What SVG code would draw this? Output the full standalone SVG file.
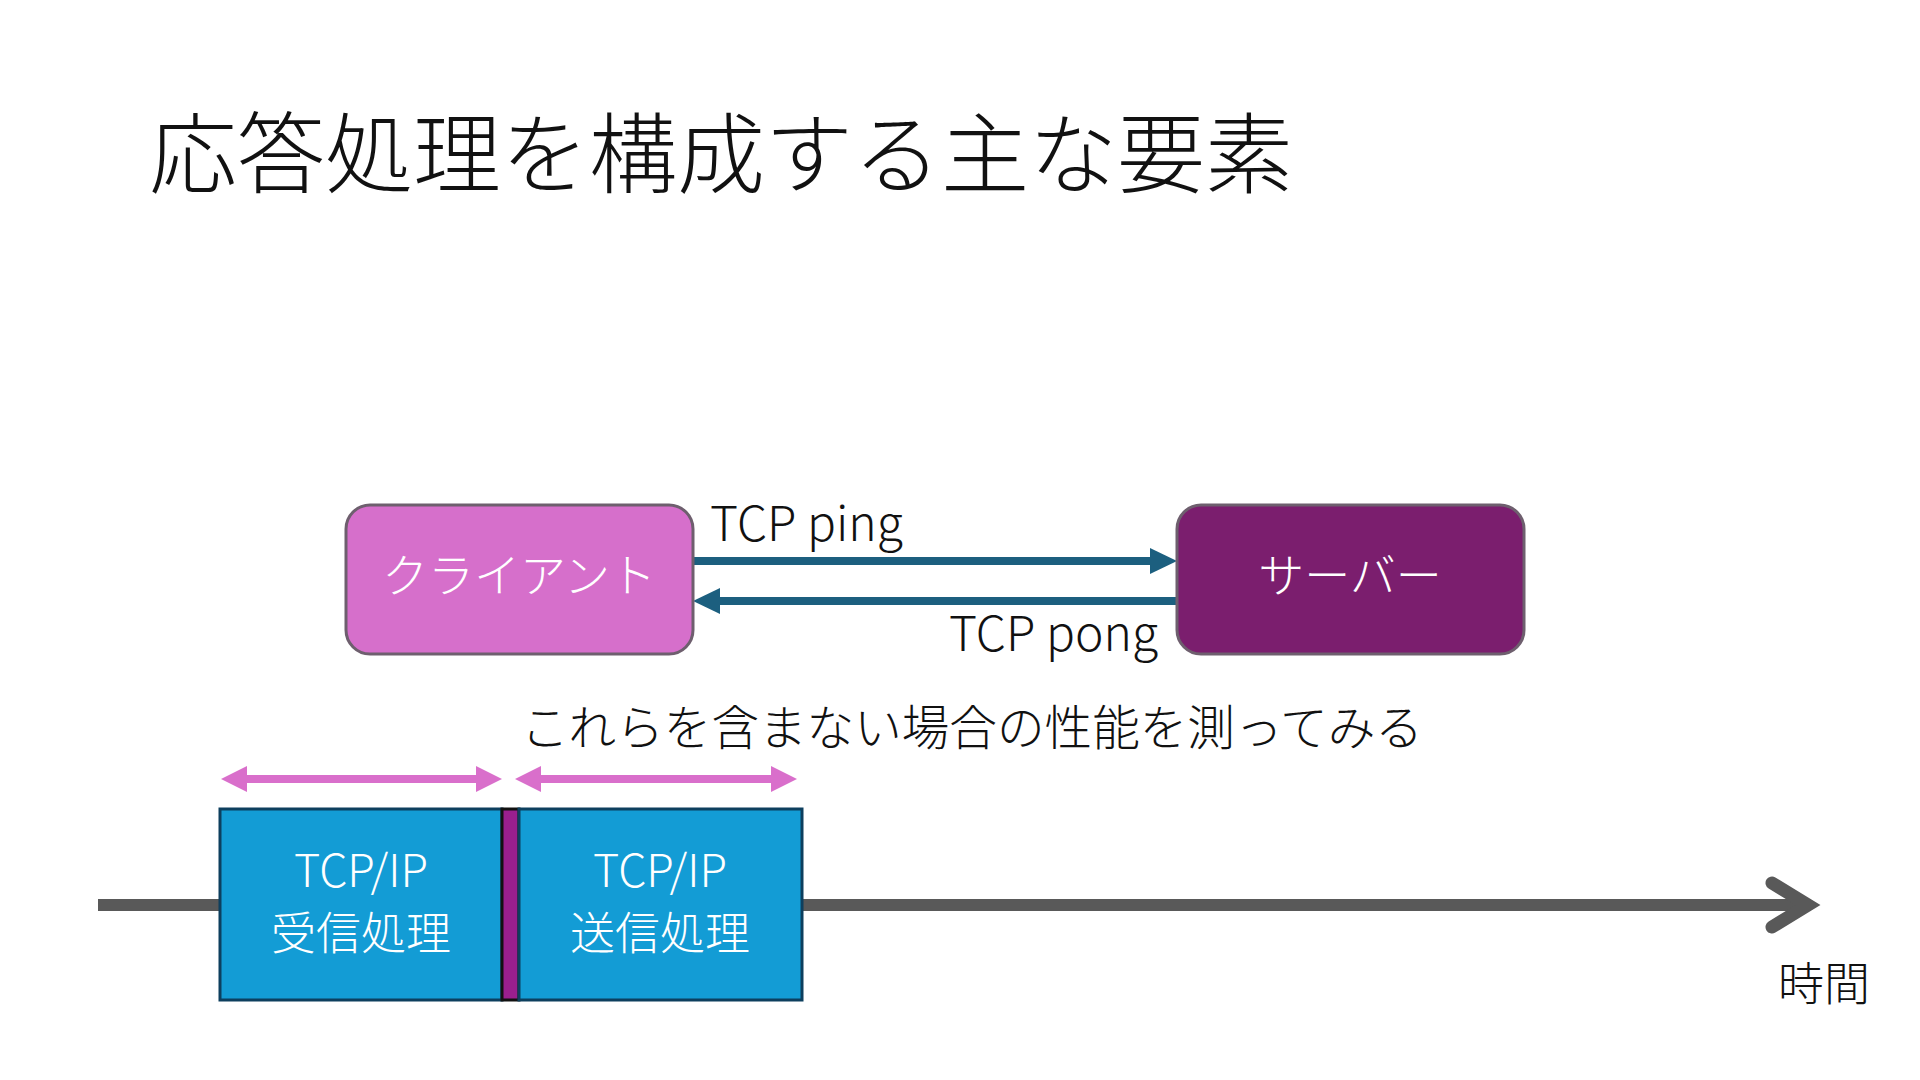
<svg xmlns="http://www.w3.org/2000/svg" width="1920" height="1080" viewBox="0 0 1920 1080">
<style>
text{font-family:"Noto Sans CJK JP","Noto Sans",sans-serif;font-weight:300}
.t{font-size:88px;fill:#111}
.lbl{font-size:48px;fill:#111}
.w{font-size:45px;fill:#ffffff;text-anchor:middle}
.node{stroke:#6E5F6E;stroke-width:3}
.blue{fill:#139CD5;stroke:#0D3F5E;stroke-width:3}
.teal{stroke:#1C5F7F;stroke-width:8;fill:none}
.pink{stroke:#D96FCB;stroke-width:8;fill:none}
</style>
<rect width="1920" height="1080" fill="#ffffff"/>
<text class="t" x="149" y="186">応答処理を構成する主な要素</text>

<g id="connectors">
<line class="teal" x1="693" y1="561" x2="1152" y2="561"/>
<polygon points="1150,548 1177,561 1150,574" fill="#1C5F7F"/>
<line class="teal" x1="1177" y1="601" x2="718" y2="601"/>
<polygon points="720,588 693,601 720,614" fill="#1C5F7F"/>
<line class="pink" x1="245" y1="779" x2="478" y2="779"/>
<polygon points="247,766 221,779 247,792" fill="#D96FCB"/>
<polygon points="476,766 502,779 476,792" fill="#D96FCB"/>
<line class="pink" x1="539" y1="779" x2="773" y2="779"/>
<polygon points="541,766 515,779 541,792" fill="#D96FCB"/>
<polygon points="771,766 797,779 771,792" fill="#D96FCB"/>
<line x1="98" y1="905" x2="1805" y2="905" stroke="#595959" stroke-width="12"/>
<polyline points="1772,883 1808,905 1772,927" fill="none" stroke="#595959" stroke-width="13" stroke-linecap="round" stroke-linejoin="miter"/>
</g>

<text class="lbl" x="710" y="541">TCP ping</text>
<text class="lbl" x="1158" y="651" text-anchor="end">TCP pong</text>

<g id="client">
<rect class="node" x="346" y="505" width="347" height="149" rx="24" fill="#D66FCB"/>
<text class="w" x="519" y="592" style="font-size:46px">クライアント</text>
</g>
<g id="server">
<rect class="node" x="1177" y="505" width="347" height="149" rx="24" fill="#7B1E6E"/>
<text class="w" x="1350" y="592" style="font-size:46px">サーバー</text>
</g>

<text class="lbl" x="521" y="745" style="font-size:47.6px">これらを含まない場合の性能を測ってみる</text>

<g id="recv">
<rect class="blue" x="220" y="809" width="282" height="191"/>
<text class="w" x="361" y="887">TCP/IP</text>
<text class="w" x="361" y="950">受信処理</text>
</g>
<g id="gap">
<rect x="502" y="809" width="17" height="191" fill="#9A1F8E" stroke="#111111" stroke-width="3"/>
</g>
<g id="send">
<rect class="blue" x="519" y="809" width="283" height="191"/>
<text class="w" x="660" y="887">TCP/IP</text>
<text class="w" x="660" y="950">送信処理</text>
</g>

<text class="lbl" x="1824" y="1000" text-anchor="middle" style="font-size:46px">時間</text>
</svg>
